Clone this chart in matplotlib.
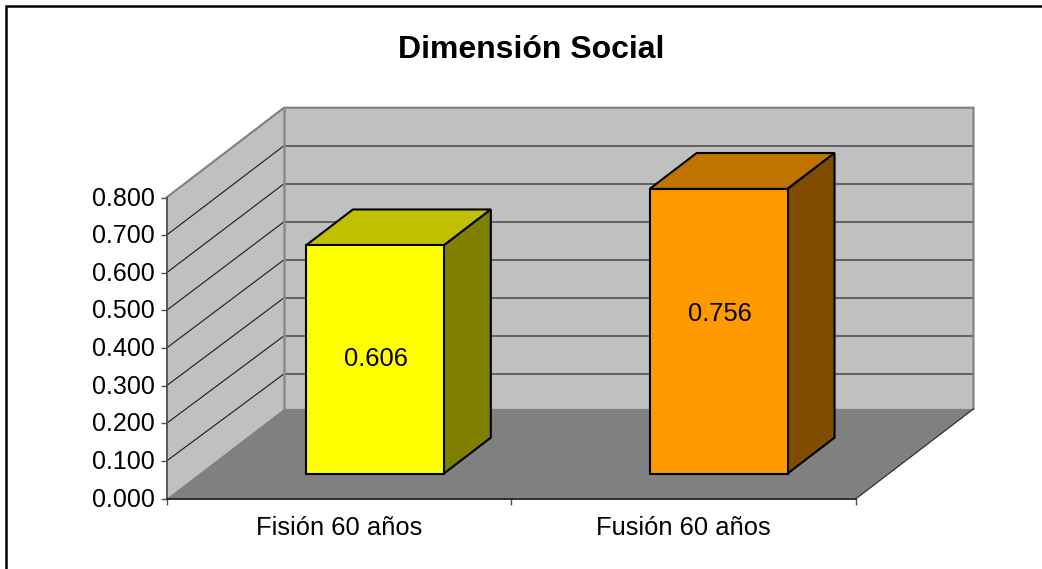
import matplotlib
matplotlib.use("Agg")
import matplotlib.pyplot as plt
from matplotlib.lines import Line2D
from matplotlib.patches import Polygon
from matplotlib.transforms import ScaledTranslation

categories = ["Fisión 60 años", "Fusión 60 años"]
values = [0.606, 0.756]
value_labels = ["0.606", "0.756"]
y_ticks = [0.0, 0.1, 0.2, 0.3, 0.4, 0.5, 0.6, 0.7, 0.8]
title = "Dimensión Social"
front_colors = ["#FFFF00", "#FF9900"]
top_colors = ["#C0C000", "#BF7300"]
side_colors = ["#808000", "#804C00"]

plt.rcParams["font.family"] = ["Liberation Sans", "DejaVu Sans"]
W, H = 1042, 569
fig = plt.figure(figsize=(W / 100, H / 100), dpi=100, facecolor="white")
L, R, T, B = 166.5, 856.0, 197.5, 498.7
ax = fig.add_axes([L / W, 1 - B / H, (R - L) / W, (B - T) / H])
ax.set_xlim(0, 2)
ax.set_ylim(0, 0.8)
ax.patch.set_visible(False)

# depth of the 3D box in data units
DX = 2 * 117.5 / (R - L)
DY = 0.8 * 89.8 / (B - T)
X0, X1, Y1 = 0, 2, 0.8
BACK_SCALE = 1.01  # the back wall's value scale is very slightly larger than the front's


def back_y(v):
    return Y1 + DY - (Y1 - v) * BACK_SCALE


def P(pts, fc, ec="none", lw=0, z=1, join="miter"):
    ax.add_patch(Polygon(pts, closed=True, facecolor=fc, edgecolor=ec, linewidth=lw,
                         zorder=z, clip_on=False, joinstyle=join))


# walls and floor
P([(X0, 0), (X0, Y1), (X0 + DX, Y1 + DY), (X0 + DX, DY)], "#C0C0C0", z=1)
P([(X0 + DX, DY), (X0 + DX, Y1 + DY), (X1 + DX, Y1 + DY), (X1 + DX, DY)], "#C0C0C0", z=1)
for v in y_ticks[1:-1]:
    ax.plot([X0, X0 + DX], [v, back_y(v)], color="#1A1A1A", lw=0.8, zorder=2, clip_on=False)
    ax.plot([X0 + DX, X1 + DX], [back_y(v), back_y(v)], color="#5A5A5A", lw=1.3, zorder=2,
            clip_on=False)
ax.plot([X0, X0 + DX, X1 + DX, X1 + DX], [Y1, Y1 + DY, Y1 + DY, DY], color="#808080", lw=1.5,
        zorder=3, clip_on=False, solid_joinstyle="miter")
ax.plot([X0 + DX, X0 + DX], [DY, Y1 + DY], color="#8C8C8C", lw=1.8, zorder=3, clip_on=False)
P([(X0, 0), (X1, 0), (X1 + DX, DY), (X0 + DX, DY)], "#808080", z=4)
ax.plot([X1, X1 + DX], [0, DY], color="#303030", lw=0.9, zorder=5, clip_on=False)

# bars
centers = [0.5, 1.5]
bar_nudges = [0.009, 0.006]
label_nudges = [0.003, 0.004]
label_lifts = [0.0, 0.047]
width = 0.4
d0, d1 = 0.28, 0.68
for c, nudge, lx, lift, v, lab, fc, tc, sc in zip(centers, bar_nudges, label_nudges, label_lifts, values,
                                                  value_labels, front_colors, top_colors, side_colors):
    x0 = c - width / 2 + nudge + d0 * DX
    x1 = x0 + width
    y0 = d0 * DY
    y1 = y0 + v
    ddx = (d1 - d0) * DX
    ddy = (d1 - d0) * DY
    P([(x0, y1), (x1, y1), (x1 + ddx, y1 + ddy), (x0 + ddx, y1 + ddy)], tc, "black", 1.5, 6)
    P([(x1, y0), (x1 + ddx, y0 + ddy), (x1 + ddx, y1 + ddy), (x1, y1)], sc, "black", 1.5, 6)
    P([(x0, y0), (x1, y0), (x1, y1), (x0, y1)], fc, "black", 1.5, 7)
    ax.text((x0 + x1) / 2 + lx, (y0 + y1) / 2 + lift, lab, ha="center", va="center", fontsize=18.4,
            color="black", zorder=8)

# axes furniture
for s in ["top", "right"]:
    ax.spines[s].set_visible(False)
ax.spines["left"].set_color("#505050")
ax.spines["left"].set_linewidth(1.3)
ax.spines["bottom"].set_color("#202020")
ax.spines["bottom"].set_linewidth(1.3)
for s in ax.spines.values():
    s.set_zorder(9)
ax.set_yticks(y_ticks)
ax.set_yticklabels([f"{v:.3f}" for v in y_ticks])
ax.set_xticks([0, 1, 2])
ax.set_xticklabels([])
ax.set_xticks(centers, minor=True)
ax.set_xticklabels(categories, minor=True)
ax.tick_params(axis="y", length=4, width=1.0, color="#505050", labelsize=18, pad=4.5)
ax.tick_params(axis="x", which="major", length=4.5, width=1.0, color="#505050")
ax.tick_params(axis="x", which="minor", length=0, labelsize=18.4, pad=12.8)
lift_labels = ScaledTranslation(0, 1.5 / 100, fig.dpi_scale_trans)
for lab in ax.get_yticklabels():
    lab.set_transform(lab.get_transform() + lift_labels)

fig.text(531.5 / W, 1 - 50.5 / H, title, ha="center", va="center", fontsize=23, fontweight="bold",
         color="black")

# outer frame, cut off at the right and the bottom of the picture
fig.add_artist(Line2D([6 / W, 6 / W, 1], [0, 1 - 6 / H, 1 - 6 / H], color="black", lw=1.8,
                      solid_joinstyle="miter"))

fig.savefig("out.png", dpi=100)
